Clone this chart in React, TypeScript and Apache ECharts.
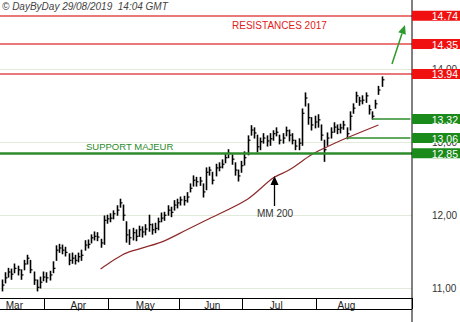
import React, { useEffect, useRef } from 'react';
import * as echarts from 'echarts';

const monthNames = ['Mar', 'Apr', 'May', 'Jun', 'Jul', 'Aug'];
const monthDays = [14, 20, 22, 20, 23, 21];
const monthLabelIdx = [4, 24, 45, 66, 86, 108];
const emptySlots = 9;

const closes = [
  11.04, 11.14, 11.22, 11.19, 11.27, 11.25, 11.18, 11.33, 11.41, 11.25,
  11.11, 11.01, 11.08, 11.15, 11.14, 11.18, 11.27, 11.52, 11.55, 11.52,
  11.49, 11.38, 11.41, 11.38, 11.43, 11.45, 11.59, 11.60, 11.69, 11.71,
  11.70, 11.62, 11.93, 11.95, 11.96, 12.02, 12.07, 12.17, 12.00, 11.73,
  11.69, 11.76, 11.71, 11.80, 11.77, 11.81, 11.87, 11.80, 11.82, 11.91,
  11.96, 12.00, 12.07, 12.04, 12.14, 12.17, 12.21, 12.20, 12.25, 12.37,
  12.48, 12.46, 12.47, 12.32, 12.59, 12.62, 12.48, 12.65, 12.66, 12.70,
  12.79, 12.85, 12.77, 12.62, 12.54, 12.68, 12.79, 13.03, 13.17, 13.13,
  12.94, 13.01, 13.06, 13.02, 13.05, 13.12, 13.14, 13.03, 13.06, 13.16,
  13.10, 13.03, 12.95, 12.99, 13.40, 13.61, 13.34, 13.24, 13.28, 13.31,
  13.10, 12.90, 13.06, 13.14, 13.21, 13.18, 13.20, 13.24, 13.12, 13.36,
  13.47, 13.64, 13.57, 13.58, 13.64, 13.45, 13.36, 13.53, 13.72, 13.86,
];
const lows = [
  10.96, 11.07, 11.15, 11.12, 11.21, 11.18, 11.12, 11.25, 11.33, 11.21,
  11.05, 10.96, 11.00, 11.10, 11.08, 11.11, 11.21, 11.38, 11.49, 11.47,
  11.44, 11.32, 11.34, 11.33, 11.36, 11.38, 11.52, 11.55, 11.62, 11.66,
  11.65, 11.56, 11.60, 11.89, 11.91, 11.95, 12.00, 12.11, 11.93, 11.63,
  11.60, 11.66, 11.65, 11.71, 11.70, 11.73, 11.78, 11.74, 11.76, 11.80,
  11.91, 11.93, 12.00, 11.98, 12.07, 12.10, 12.14, 12.14, 12.18, 12.32,
  12.40, 12.40, 12.41, 12.25, 12.35, 12.55, 12.43, 12.54, 12.61, 12.65,
  12.72, 12.79, 12.70, 12.55, 12.47, 12.59, 12.69, 12.83, 13.10, 13.06,
  12.87, 12.90, 12.99, 12.95, 12.96, 13.03, 13.09, 12.98, 12.99, 13.09,
  13.02, 12.98, 12.90, 12.90, 12.96, 13.50, 13.25, 13.17, 13.20, 13.21,
  13.03, 12.74, 12.96, 13.06, 13.14, 13.12, 13.13, 13.18, 13.05, 13.17,
  13.40, 13.55, 13.51, 13.53, 13.55, 13.39, 13.32, 13.47, 13.66, 13.77,
];
const highs = [
  11.11, 11.21, 11.27, 11.26, 11.33, 11.30, 11.25, 11.38, 11.45, 11.38,
  11.22, 11.11, 11.15, 11.22, 11.21, 11.23, 11.36, 11.58, 11.60, 11.59,
  11.56, 11.47, 11.48, 11.45, 11.48, 11.52, 11.65, 11.66, 11.73, 11.77,
  11.76, 11.67, 11.99, 12.00, 12.02, 12.06, 12.13, 12.22, 12.14, 11.91,
  11.80, 11.82, 11.80, 11.85, 11.84, 11.87, 12.00, 11.88, 11.89, 11.96,
  12.03, 12.04, 12.13, 12.11, 12.20, 12.22, 12.25, 12.26, 12.31, 12.43,
  12.54, 12.52, 12.52, 12.43, 12.65, 12.66, 12.59, 12.70, 12.72, 12.76,
  12.84, 12.90, 12.83, 12.72, 12.62, 12.74, 12.87, 13.09, 13.23, 13.20,
  13.10, 13.06, 13.12, 13.09, 13.12, 13.16, 13.20, 13.10, 13.12, 13.21,
  13.17, 13.12, 13.03, 13.05, 13.46, 13.68, 13.53, 13.34, 13.36, 13.38,
  13.24, 13.03, 13.13, 13.20, 13.27, 13.24, 13.25, 13.29, 13.20, 13.42,
  13.53, 13.69, 13.62, 13.64, 13.68, 13.51, 13.42, 13.58, 13.77, 13.90,
];

const maIdx = [31, 35, 39, 50, 58, 64, 77, 85, 90, 97, 101, 108, 118];
const maVal = [11.26, 11.38, 11.48, 11.63, 11.80, 11.93, 12.22, 12.51, 12.62, 12.83, 12.92, 13.06, 13.24];

const yTicks = [11, 12, 13, 14];
const resistances = [14.74, 14.35, 13.94];
const supports = [13.32, 13.06, 12.85];
const supportFrom = [116, 108, -1];

const RED_LINE = '#e24b4b';
const RED_BOX = '#f01010';
const GREEN_LINE = '#2c8c2c';
const GREEN_BOX = '#1a8a1a';
const FONT = '"Liberation Sans", Arial, sans-serif';
const NARROW = '"Liberation Sans Narrow", "Liberation Sans", Arial, sans-serif';

export default function App() {
  const ref = useRef<HTMLDivElement>(null);
  useEffect(() => {
    const chart = echarts.init(ref.current!, null, { renderer: 'svg' });
    const categories: string[] = [];
    const monthStarts = new Set<number>();
    monthDays.forEach((n, m) => {
      monthStarts.add(categories.length);
      for (let k = 0; k < n; k++) categories.push(monthNames[m]);
    });
    for (let k = 0; k < emptySlots; k++) categories.push('');
    monthStarts.delete(0);
    const labelSet = new Set(monthLabelIdx);
    const lastIdx = categories.length - 1;
    const bars = closes.map((c, i) => [i, c, lows[i], highs[i]]);

    const markData: any[] = [];
    resistances.forEach((v) => markData.push({ yAxis: v, lineStyle: { color: RED_LINE, width: 1.5, type: 'solid' } }));
    supports.forEach((v, k) => {
      const ls = { color: GREEN_LINE, width: v === 12.85 ? 2.5 : 1.5, type: 'solid' };
      if (supportFrom[k] < 0) markData.push({ yAxis: v, lineStyle: ls });
      else markData.push([{ coord: [supportFrom[k], v], lineStyle: ls }, { coord: [lastIdx, v], lineStyle: ls }]);
    });

    chart.setOption({
      animation: false,
      backgroundColor: '#fff',
      grid: { left: 0, right: 48, top: 0, bottom: 24 },
      xAxis: {
        type: 'category',
        data: categories,
        boundaryGap: true,
        axisLine: { show: true, lineStyle: { color: '#000', width: 1 } },
        axisTick: { show: true, length: 11, interval: (i: number) => monthStarts.has(i), lineStyle: { color: '#000' } },
        axisLabel: {
          interval: (i: number) => labelSet.has(i),
          margin: 2,
          color: '#222',
          fontSize: 10,
          fontFamily: NARROW,
        },
        splitLine: { show: false },
      },
      yAxis: {
        type: 'value',
        position: 'right',
        min: 10.863,
        max: 14.956,
        axisLine: { show: false },
        axisTick: { show: false, customValues: yTicks },
        axisLabel: {
          customValues: yTicks,
          formatter: (v: number) => v.toFixed(2).replace('.', ','),
          margin: 20,
          color: '#333',
          fontSize: 10,
          fontFamily: NARROW,
        },
        splitLine: { show: true, lineStyle: { color: '#e2ead9', width: 1 } },
      },
      series: [
        {
          type: 'custom',
          data: bars,
          encode: { x: 0, y: [1, 2, 3] },
          renderItem: (_p: any, api: any) => {
            const i = api.value(0);
            const pc = api.coord([i, api.value(1)]);
            const pl = api.coord([i, api.value(2)]);
            const ph = api.coord([i, api.value(3)]);
            const x = Math.round(pl[0]) + 0.5;
            return {
              type: 'group',
              children: [
                { type: 'line', shape: { x1: x, y1: ph[1] - 0.5, x2: x, y2: pl[1] + 0.5 }, style: { stroke: '#000', lineWidth: 1.6 } },
                { type: 'line', shape: { x1: x, y1: pc[1], x2: x + 2, y2: pc[1] }, style: { stroke: '#000', lineWidth: 1.2 } },
              ],
            };
          },
        },
        {
          type: 'line',
          data: maIdx.map((x, k) => [x, maVal[k]]),
          smooth: 0.3,
          symbol: 'none',
          lineStyle: { color: '#8e2a2a', width: 1.2 },
          markLine: {
            silent: true,
            symbol: ['none', 'none'],
            label: { show: false },
            data: markData,
          },
        },
      ],
    });

    const yOf = (v: number) => chart.convertToPixel({ yAxisIndex: 0 }, v) as number;
    const graphics: any[] = [];
    const box = (v: number, color: string) => {
      const y = yOf(v);
      graphics.push({ type: 'rect', z: 100, shape: { x: 412, y: y - 5, width: 48, height: 10 }, style: { fill: color } });
      graphics.push({
        type: 'text', z: 101,
        style: { x: 458, y: y + 0.5, text: v.toFixed(2), fill: '#fff', font: `10.5px ${FONT}`, align: 'right', verticalAlign: 'middle', textAlign: 'right', textVerticalAlign: 'middle' },
      });
    };
    resistances.forEach((v) => box(v, RED_BOX));
    supports.forEach((v) => box(v, GREEN_BOX));

    const txt = (x: number, y: number, text: string, fill: string, font: string) => ({
      type: 'text', z: 100,
      style: { x, y, text, fill, font, align: 'left', verticalAlign: 'middle', textAlign: 'left', textVerticalAlign: 'middle' },
    });
    graphics.push(txt(2, 6, '© DayByDay 29/08/2019  14:04 GMT', '#444', `italic 10px ${FONT}`));
    graphics.push(txt(232, 25, 'RESISTANCES 2017', '#e02020', `10px ${FONT}`));
    graphics.push(txt(86, 146, 'SUPPORT MAJEUR', '#2a8a2a', `9.5px ${FONT}`));
    graphics.push(txt(257, 213, 'MM 200', '#333', `10px ${FONT}`));
    graphics.push({ type: 'line', z: 100, shape: { x1: 274.5, y1: 206, x2: 274.5, y2: 183 }, style: { stroke: '#000', lineWidth: 1.3 } });
    graphics.push({ type: 'polygon', z: 100, shape: { points: [[274.5, 176], [270.5, 185], [278.5, 185]] }, style: { fill: '#000' } });
    graphics.push({ type: 'line', z: 100, shape: { x1: 392, y1: 64, x2: 402, y2: 33.5 }, style: { stroke: '#2e9a2e', lineWidth: 1.5 } });
    graphics.push({ type: 'polygon', z: 100, shape: { points: [[405, 25], [405.8, 34.8], [398.2, 32.2]] }, style: { fill: '#2e9a2e' } });
    graphics.push({ type: 'line', z: 90, shape: { x1: 0, y1: 309.5, x2: 412, y2: 309.5 }, style: { stroke: '#000', lineWidth: 1 } });
    graphics.push({ type: 'line', z: 90, shape: { x1: 412, y1: 0, x2: 412, y2: 322 }, style: { stroke: '#000', lineWidth: 1 } });

    chart.setOption({ graphic: graphics });
    return () => chart.dispose();
  }, []);
  return <div ref={ref} style={{ position: 'fixed', left: 0, top: 0, width: 460, height: 322, background: '#fff' }} />;
}
